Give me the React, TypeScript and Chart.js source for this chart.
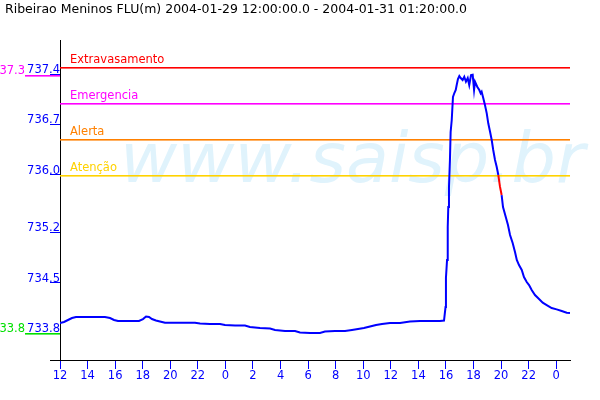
import React, { useEffect, useRef } from "react";
import { Chart, registerables } from "chart.js";

Chart.register(...registerables);

const titleText = "Ribeirao Meninos FLU(m) 2004-01-29 12:00:00.0 - 2004-01-31 01:20:00.0";
const watermarkText = "www.saisp.br";
const startClockHour = 12;

// hours since 2004-01-29 12:00
const hoursSinceStart = [
  0, 0.29, 0.58, 0.87, 1.16, 1.81, 2.54, 3.26, 3.63, 3.92, 4.21, 4.72, 5.22, 5.73, 6.02, 6.24,
  6.46, 6.67, 6.96, 7.25, 7.62, 8.34, 9.07, 9.79, 10.16, 10.88, 11.61, 11.97, 12.7, 13.42, 13.78,
  14.51, 15.24, 15.6, 16.32, 17.05, 17.41, 18.14, 18.86, 19.22, 19.95, 20.68, 21.18, 21.62, 22.05,
  22.49, 22.93, 23.36, 23.94, 24.67, 25.39, 26.12, 26.84, 27.57, 27.86, 27.97, 28.0, 28.08, 28.13,
  28.17, 28.22, 28.29, 28.34, 28.42, 28.51, 28.61, 28.71, 28.78, 28.87, 28.97, 29.07, 29.21, 29.33,
  29.45, 29.58, 29.69, 29.82, 29.94, 30.04, 30.11, 30.27, 30.42, 30.52, 30.59, 30.71, 30.83, 30.96,
  31.07, 31.2, 31.32, 31.43, 31.56, 31.68, 31.8, 31.92, 32.04, 32.14, 32.36, 32.5, 32.65, 32.84,
  33.01, 33.14, 33.3, 33.5, 33.66, 33.86, 34.03, 34.22, 34.46, 34.68, 35.02, 35.31, 35.67, 36.03,
  36.4, 36.76, 37.0,
];

// water level (m)
const levels = [
  733.939, 733.953, 733.981, 734.008, 734.022, 734.022, 734.022, 734.022, 734.008, 733.981, 733.967,
  733.967, 733.967, 733.967, 733.994, 734.029, 734.022, 733.994, 733.974, 733.96, 733.943, 733.943,
  733.943, 733.943, 733.932, 733.925, 733.925, 733.911, 733.904, 733.904, 733.883, 733.869, 733.862,
  733.842, 733.828, 733.828, 733.807, 733.8, 733.8, 733.821, 733.828, 733.828, 733.842, 733.856,
  733.869, 733.89, 733.911, 733.925, 733.939, 733.939, 733.96, 733.967, 733.967, 733.967, 733.974,
  734.161, 734.564, 734.815, 735.273, 735.551, 735.829, 736.205, 736.594, 736.761, 737.08, 737.136,
  737.178, 737.247, 737.331, 737.372, 737.344, 737.317, 737.362, 737.293, 737.344, 737.247, 737.386,
  737.39, 737.178, 737.293, 737.224, 737.178, 737.132, 737.154, 737.062, 736.969, 736.854, 736.715,
  736.598, 736.483, 736.344, 736.205, 736.112, 735.996, 735.834, 735.718, 735.551, 735.398, 735.301,
  735.162, 735.051, 734.926, 734.815, 734.745, 734.676, 734.578, 734.509, 734.467, 734.398, 734.328,
  734.286, 734.221, 734.189, 734.147, 734.129, 734.106, 734.082, 734.078,
];

const yTickValues = [733.8, 734.5, 735.2, 736.0, 736.7, 737.4];
const xTickHours = [0, 2, 4, 6, 8, 10, 12, 14, 16, 18, 20, 22, 24, 26, 28, 30, 32, 34, 36];

const thresholdNames = ["Extravasamento", "Emergencia", "Alerta", "Atenção"];
const thresholdLevels = [737.5, 737.0, 736.5, 736.0];
const thresholdColors = ["#ff0000", "#ff00ff", "#ff8000", "#ffd200"];

const highlightFrom = 31.79;
const highlightTo = 32.05;

const FONT = '"DejaVu Sans"';
const BLUE = "#0000ff";

const overlay = {
  id: "overlay",
  beforeDatasetsDraw(chart: any) {
    const { ctx, chartArea, scales } = chart;
    const y = scales.y;
    ctx.save();
    ctx.font = `italic 70px ${FONT}`;
    ctx.fillStyle = "rgb(224,243,252)";
    ctx.textBaseline = "alphabetic";
    ctx.textAlign = "left";
    ctx.fillText(watermarkText, 120, 182);

    ctx.font = `11.5px ${FONT}`;
    thresholdLevels.forEach((lv, i) => {
      const py = Math.round(y.getPixelForValue(lv));
      ctx.fillStyle = thresholdColors[i];
      ctx.fillRect(chartArea.left, py, chartArea.right - chartArea.left, 1.6);
      ctx.fillText(thresholdNames[i], chartArea.left + 10, py - 4);
    });
    ctx.restore();
  },
  afterDraw(chart: any) {
    const { ctx, chartArea, scales } = chart;
    const y = scales.y;
    ctx.save();
    // title
    ctx.font = `12.5px ${FONT}`;
    ctx.fillStyle = "#000";
    ctx.textAlign = "left";
    ctx.textBaseline = "alphabetic";
    ctx.fillText(titleText, 5, 13);

    // y tick labels
    ctx.font = `11.5px ${FONT}`;
    ctx.fillStyle = BLUE;
    ctx.textAlign = "right";
    yTickValues.forEach((v) => {
      const py = Math.round(y.getPixelForValue(v));
      ctx.fillText(v.toFixed(1), chartArea.left, py - 1);
    });

    // bottom-left extension of axis
    ctx.fillStyle = "#000";
    ctx.fillRect(chartArea.left - 10, Math.round(chartArea.bottom), 10, 1);

    // max & min markers
    let maxV = -Infinity;
    let minV = Infinity;
    levels.forEach((v) => {
      if (v > maxV) maxV = v;
      if (v < minV) minV = v;
    });
    const marks: [number, string][] = [
      [maxV, "#ff00ff"],
      [minV, "#00e000"],
    ];
    marks.forEach(([v, col]) => {
      const py = Math.round(y.getPixelForValue(v));
      ctx.fillStyle = col;
      ctx.fillRect(chartArea.left - 35, py, 35, 1.6);
      ctx.textAlign = "right";
      const label = (Math.floor(v * 10 + 1e-6) / 10).toFixed(1);
      ctx.fillText(label, chartArea.left - 35, py - 1);
    });
    ctx.restore();
  },
};

export default function App() {
  const ref = useRef<HTMLCanvasElement | null>(null);
  useEffect(() => {
    if (!ref.current) return;
    const chart = new Chart(ref.current, {
      type: "line",
      data: {
        datasets: [
          {
            data: hoursSinceStart.map((h, i) => ({ x: h, y: levels[i] })),
            borderColor: BLUE,
            borderWidth: 2,
            pointRadius: 0,
            tension: 0,
            fill: false,
            segment: {
              borderColor: (c: any) =>
                c.p0.parsed.x >= highlightFrom && c.p1.parsed.x <= highlightTo ? "#ff0000" : undefined,
            },
          },
        ],
      },
      options: {
        responsive: false,
        animation: false,
        events: [],
        layout: { padding: { top: 40, right: 30, left: 0, bottom: 0 } },
        plugins: { legend: { display: false }, tooltip: { enabled: false }, title: { display: false } },
        scales: {
          x: {
            type: "linear",
            min: 0,
            max: 37,
            afterBuildTicks: (s: any) => {
              s.ticks = xTickHours.map((v) => ({ value: v }));
            },
            afterFit: (s: any) => {
              s.height = 40;
            },
            grid: { drawOnChartArea: false, drawTicks: true, tickLength: 9, tickColor: BLUE, tickWidth: 1 },
            border: { display: true, color: "#000", width: 1 },
            ticks: {
              color: BLUE,
              font: { family: "DejaVu Sans", size: 11.5 },
              padding: 0,
              maxRotation: 0,
              autoSkip: false,
              callback: (v: any) => String((startClockHour + Number(v)) % 24),
            },
          },
          y: {
            type: "linear",
            min: 733.425,
            max: 737.873,
            afterBuildTicks: (s: any) => {
              s.ticks = yTickValues.map((v) => ({ value: v }));
            },
            afterFit: (s: any) => {
              s.width = 60;
            },
            grid: { drawOnChartArea: false, drawTicks: true, tickLength: 10, tickColor: BLUE, tickWidth: 1 },
            border: { display: true, color: "#000", width: 1 },
            ticks: { display: false },
          },
        },
      },
      plugins: [overlay],
    });
    return () => chart.destroy();
  }, []);
  return (
    <div style={{ position: "fixed", left: 0, top: 0, width: 600, height: 400, background: "#fff" }}>
      <canvas ref={ref} width={600} height={400} style={{ display: "block" }} />
    </div>
  );
}
